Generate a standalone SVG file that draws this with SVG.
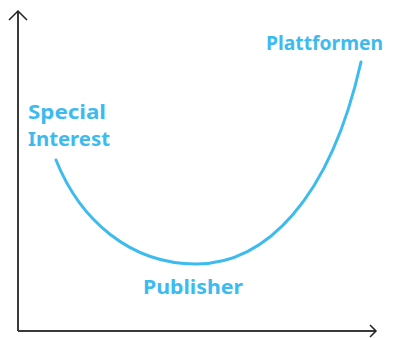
<svg xmlns="http://www.w3.org/2000/svg" width="396" height="338" viewBox="0 0 396 338">
  <style>
    .axis { fill: none; stroke: #3a3a3a; stroke-width: 2; }
    .tip { fill: none; stroke: #222; stroke-width: 1.5; stroke-linejoin: miter; }
    .curve { fill: none; stroke: #3dbbef; stroke-width: 3; stroke-linecap: round; }
    .label { font-family: "Noto Sans", "Liberation Sans", sans-serif; font-weight: 700; font-size: 20px; fill: #3dbbef; }
  </style>
  <rect width="396" height="338" fill="#ffffff"/>
  <g id="connectors">
    <path class="axis" d="M18,331 V11"/>
    <path class="axis" d="M18,331 H376"/>
    <path class="tip" d="M9,20 L18,11 L27,20"/>
    <path class="tip" d="M370,325 L376,331 L370,337"/>
    <path class="curve" d="M56,160 C80,220 130,264 196,264 C265,264 330,200 361,62"/>
  </g>
  <g id="special-interest">
    <text class="label" x="28" y="119" textLength="78" lengthAdjust="spacingAndGlyphs">Special</text>
    <text class="label" x="28" y="146" textLength="82" lengthAdjust="spacingAndGlyphs">Interest</text>
  </g>
  <g id="plattformen">
    <text class="label" x="266" y="50" textLength="117" lengthAdjust="spacingAndGlyphs">Plattformen</text>
  </g>
  <g id="publisher">
    <text class="label" x="143" y="294" textLength="100" lengthAdjust="spacingAndGlyphs">Publisher</text>
  </g>
</svg>
